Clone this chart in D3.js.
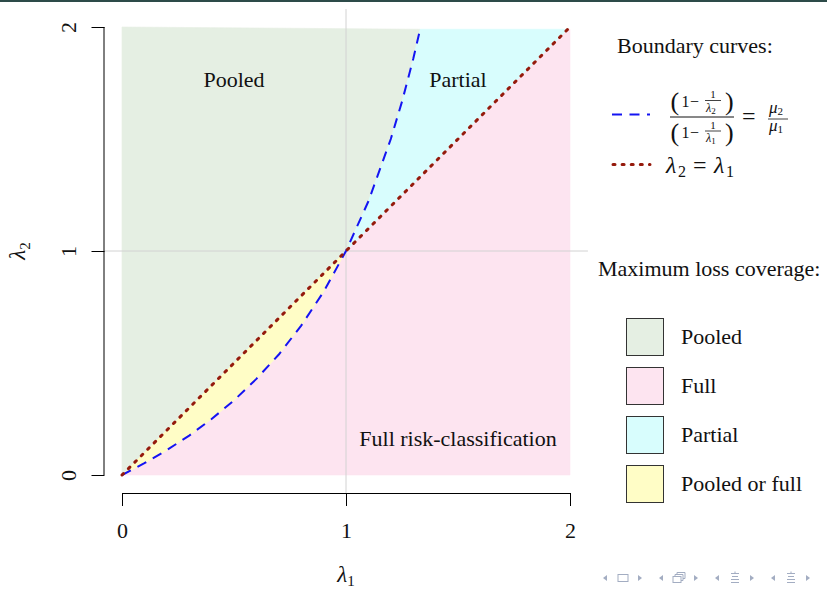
<!DOCTYPE html>
<html>
<head>
<meta charset="utf-8">
<script src="https://cdn.jsdelivr.net/npm/d3@7"></script>
<style>
    body { margin: 0; background: #ffffff; }
    svg { display: block; }
    text { font-family: "Liberation Serif", "Times New Roman", serif; fill: #111; }
</style>
</head>
<body>
<svg id="chart-svg" width="827" height="591"></svg>
<script>
/** Chart values **/
var lambdaTicks = [0, 1, 2];
var curveLambda1 = [0, 0.1, 0.2, 0.3, 0.4, 0.5, 0.6, 0.7, 0.8, 0.9, 1.0, 1.1, 1.2, 1.25, 1.3, 1.331];
var curveLambda2 = [0, 0.053, 0.111, 0.176, 0.25, 0.333, 0.429, 0.538, 0.667, 0.818, 1.0, 1.222, 1.5, 1.667, 1.857, 1.99];
var diagonalLambda = [0, 1, 1.99];
var gridLambda = 1;
var regionNames = ["Pooled", "Full", "Partial", "Pooled or full"];
var regionColors = ["#e5efe3", "#fde4f0", "#d8fdfd", "#fffdc6"];
var regionLabels = ["Pooled", "Partial", "Full risk-classification"];
var regionLabelAt = [[0.5, 1.73], [1.5, 1.73], [1.5, 0.13]];

var chart_svg = d3.select("#chart-svg");

/** Scales: R style, 4% padding on each side of 0..2 **/
var xScale = d3.scaleLinear().domain([0, 2]).range([122, 570]);
var yScale = d3.scaleLinear().domain([0, 2]).range([475, 27]);

/** top frame bar of the slide **/
chart_svg.append("rect")
    .attr("x", 0).attr("y", 0)
    .attr("width", 827).attr("height", 2)
    .attr("fill", "#2d4b49");

/** Build the curve points **/
var curvePts = curveLambda1.map(function(d, i){ return [d, curveLambda2[i]]; });
var iOne = curveLambda1.indexOf(1.0);
var lowerCurve = curvePts.slice(0, iOne + 1);      // (0,0) .. (1,1)
var upperCurve = curvePts.slice(iOne);             // (1,1) .. top
var last = diagonalLambda[diagonalLambda.length - 1];

var polygons = [
    // Pooled
    {color: regionColors[0], pts: [[0, 0], [1, 1]].concat(upperCurve.slice(1)).concat([[0, 2]])},
    // Full
    {color: regionColors[1], pts: lowerCurve.concat([[last, last], [2, last], [2, 0]])},
    // Partial
    {color: regionColors[2], pts: upperCurve.concat([[last, last]])},
    // Pooled or full
    {color: regionColors[3], pts: [[0, 0], [1, 1]].concat(lowerCurve.slice().reverse())}
];

var polyLine = d3.line()
    .x(function(d){ return xScale(d[0]); })
    .y(function(d){ return yScale(d[1]); });

var g = chart_svg.append("g");

g.selectAll("path.region")
    .data(polygons)
    .enter().append("path")
    .attr("class", "region")
    .attr("d", function(d){ return polyLine(d.pts) + "Z"; })
    .attr("fill", function(d){ return d.color; })
    .attr("stroke", function(d){ return d.color; })
    .attr("stroke-width", 0.6);

/** Gray reference lines at lambda = 1 **/
g.append("line")
    .attr("x1", xScale(gridLambda)).attr("x2", xScale(gridLambda))
    .attr("y1", yScale(2.08)).attr("y2", yScale(-0.08))
    .attr("stroke", "#d2d2d2").attr("stroke-width", 1);
g.append("line")
    .attr("x1", xScale(-0.08)).attr("x2", xScale(2.08))
    .attr("y1", yScale(gridLambda)).attr("y2", yScale(gridLambda))
    .attr("stroke", "#d2d2d2").attr("stroke-width", 1);

/** Region labels **/
g.selectAll("text.regionLabel")
    .data(regionLabels)
    .enter().append("text")
    .attr("class", "regionLabel")
    .attr("x", function(d, i){ return xScale(regionLabelAt[i][0]); })
    .attr("y", function(d, i){ return yScale(regionLabelAt[i][1]); })
    .attr("text-anchor", "middle")
    .style("font-size", "22px")
    .text(function(d){ return d; });

/** Boundary curves **/
g.append("path")
    .datum(curvePts)
    .attr("d", polyLine)
    .attr("fill", "none")
    .attr("stroke", "#1414f2")
    .attr("stroke-width", 2)
    .attr("stroke-dasharray", "10,7.5");

g.append("path")
    .datum(diagonalLambda.map(function(d){ return [d, d]; }))
    .attr("d", polyLine)
    .attr("fill", "none")
    .attr("stroke", "#951a0c")
    .attr("stroke-width", 3)
    .attr("stroke-linecap", "round")
    .attr("stroke-dasharray", "2,7.1");

/** Axes **/
var xAxis = d3.axisBottom(xScale).tickValues(lambdaTicks).tickSize(13).tickFormat(d3.format("d"));
var yAxis = d3.axisLeft(yScale).tickValues(lambdaTicks).tickSize(13).tickFormat(d3.format("d"));

var xg = chart_svg.append("g")
    .attr("class", "x_axis")
    .attr("transform", "translate(0,493)")
    .call(xAxis);
var yg = chart_svg.append("g")
    .attr("class", "y_axis")
    .attr("transform", "translate(104.5,0)")
    .call(yAxis);

[xg, yg].forEach(function(a){
    a.select(".domain").attr("stroke", "#000").attr("stroke-width", 1);
    a.selectAll(".tick line").attr("stroke", "#000").attr("stroke-width", 1);
    a.selectAll("text")
        .style("font-family", "Liberation Serif, serif")
        .style("font-size", "22px")
        .attr("fill", "#111");
});
xg.select(".domain").attr("d", "M" + xScale(0) + ",0.5H" + xScale(2));
yg.select(".domain").attr("d", "M-0.5," + yScale(0) + "V" + yScale(2));
xg.selectAll(".tick text").attr("y", 45).attr("dy", 0);
yg.selectAll(".tick text")
    .attr("x", 0).attr("dy", 0)
    .attr("text-anchor", "middle")
    .attr("transform", "translate(-29,0) rotate(-90)");

/** Axis titles **/
var xt = chart_svg.append("text")
    .attr("x", 346).attr("y", 582)
    .attr("text-anchor", "middle")
    .style("font-size", "23px");
xt.append("tspan").style("font-style", "italic").text("λ");
xt.append("tspan").attr("dy", 4).style("font-size", "15px").text("1");

var yt = chart_svg.append("text")
    .attr("transform", "translate(25,251) rotate(-90)")
    .attr("text-anchor", "middle")
    .style("font-size", "23px");
yt.append("tspan").style("font-style", "italic").text("λ");
yt.append("tspan").attr("dy", 5).style("font-size", "15px").text("2");

/** Legend: boundary curves **/
var leg = chart_svg.append("g");
leg.append("text").attr("x", 617).attr("y", 53).style("font-size", "22px").text("Boundary curves:");

leg.append("line")
    .attr("x1", 612).attr("x2", 650).attr("y1", 114.5).attr("y2", 114.5)
    .attr("stroke", "#1414f2").attr("stroke-width", 2)
    .attr("stroke-dasharray", "10,7.5");
leg.append("line")
    .attr("x1", 613).attr("x2", 650).attr("y1", 164.5).attr("y2", 164.5)
    .attr("stroke", "#951a0c").attr("stroke-width", 3)
    .attr("stroke-linecap", "round")
    .attr("stroke-dasharray", "2,7.1");

/** fraction (1 - 1/lambda_k) parts **/
function smallTerm(y0, sub){
    leg.append("text").attr("x", 670.5).attr("y", y0 + 7).style("font-size", "26px").text("(");
    leg.append("text").attr("x", 681.5).attr("y", y0 + 4).style("font-size", "16px").text("1");
    leg.append("text").attr("x", 690).attr("y", y0 + 4).style("font-size", "16px").text("−");
    leg.append("text").attr("x", 713).attr("y", y0 - 5).attr("text-anchor", "middle").style("font-size", "11px").text("1");
    leg.append("line").attr("x1", 705).attr("x2", 721).attr("y1", y0 - 2.5).attr("y2", y0 - 2.5)
        .attr("stroke", "#111").attr("stroke-width", 0.8);
    var t = leg.append("text").attr("x", 706).attr("y", y0 + 8.5).style("font-size", "12px");
    t.append("tspan").style("font-style", "italic").text("λ");
    t.append("tspan").attr("dy", 2).style("font-size", "9px").text(sub);
    leg.append("text").attr("x", 725).attr("y", y0 + 7).style("font-size", "26px").text(")");
}
smallTerm(103, "2");
smallTerm(133.5, "1");
leg.append("line").attr("x1", 670).attr("x2", 734).attr("y1", 117).attr("y2", 117)
    .attr("stroke", "#111").attr("stroke-width", 1);
leg.append("text").attr("x", 742).attr("y", 124).style("font-size", "24px").text("=");
var mu2 = leg.append("text").attr("x", 769).attr("y", 113).style("font-size", "17px");
mu2.append("tspan").style("font-style", "italic").text("μ");
mu2.append("tspan").attr("dy", 2).style("font-size", "11px").text("2");
leg.append("line").attr("x1", 768).attr("x2", 788).attr("y1", 119).attr("y2", 119)
    .attr("stroke", "#111").attr("stroke-width", 0.8);
var mu1 = leg.append("text").attr("x", 769).attr("y", 131).style("font-size", "17px");
mu1.append("tspan").style("font-style", "italic").text("μ");
mu1.append("tspan").attr("dy", 2).style("font-size", "11px").text("1");

/** lambda_2 = lambda_1 **/
leg.append("text").attr("x", 666).attr("y", 173).style("font-size", "24px").style("font-style", "italic").text("λ");
leg.append("text").attr("x", 678).attr("y", 177).style("font-size", "16px").text("2");
leg.append("text").attr("x", 693).attr("y", 173).style("font-size", "24px").text("=");
leg.append("text").attr("x", 714).attr("y", 173).style("font-size", "24px").style("font-style", "italic").text("λ");
leg.append("text").attr("x", 726).attr("y", 177).style("font-size", "16px").text("1");

/** Legend: maximum loss coverage **/
leg.append("text").attr("x", 598).attr("y", 276).style("font-size", "22px").text("Maximum loss coverage:");

var boxY = d3.scaleBand().domain(regionNames).range([318, 502]).paddingInner(0.245);
var items = leg.selectAll("g.item")
    .data(regionNames)
    .enter().append("g")
    .attr("class", "item")
    .attr("transform", function(d){ return "translate(0," + boxY(d) + ")"; });
items.append("rect")
    .attr("x", 626.5).attr("y", 0.5)
    .attr("width", 37).attr("height", 37)
    .attr("fill", function(d, i){ return regionColors[i]; })
    .attr("stroke", "#333").attr("stroke-width", 1);
items.append("text")
    .attr("x", 681).attr("y", 26)
    .style("font-size", "22px")
    .text(function(d){ return d; });

/** Beamer navigation symbols **/
var navColor = "#a3adc2";
var nav = chart_svg.append("g").attr("fill", navColor).attr("stroke", navColor);
var navGroups = [603, 659, 715, 771];
navGroups.forEach(function(x0, k){
    nav.append("path").attr("d", "M" + x0 + ",578l4,-3v6z").attr("stroke", "none");
    nav.append("path").attr("d", "M" + (x0 + 35) + ",575l4,3l-4,3z").attr("stroke", "none");
    var c = x0 + 20;
    if(k === 0){
        nav.append("rect").attr("x", c - 5).attr("y", 574.5).attr("width", 10).attr("height", 7)
            .attr("fill", "none").attr("stroke-width", 1);
    }else if(k === 1){
        nav.append("rect").attr("x", c - 6).attr("y", 576.5).attr("width", 8).attr("height", 6)
            .attr("fill", "#fff").attr("stroke-width", 1);
        nav.append("path").attr("d", "M" + (c - 4) + ",576.5v-2h8v6h-2M" + (c - 2) + ",574.5v-2h8v6h-2")
            .attr("fill", "none").attr("stroke-width", 1);
    }else{
        nav.append("path").attr("d", "M" + (c - 4) + ",573.5h8M" + (c - 3) + ",576.5h6M" + (c - 4) + ",579.5h8M" + (c - 4) + ",582.5h8")
            .attr("fill", "none").attr("stroke-width", 1);
        nav.append("path").attr("d", "M" + c + ",571.5v2").attr("fill", "none").attr("stroke-width", 1);
    }
});
</script>
</body>
</html>
